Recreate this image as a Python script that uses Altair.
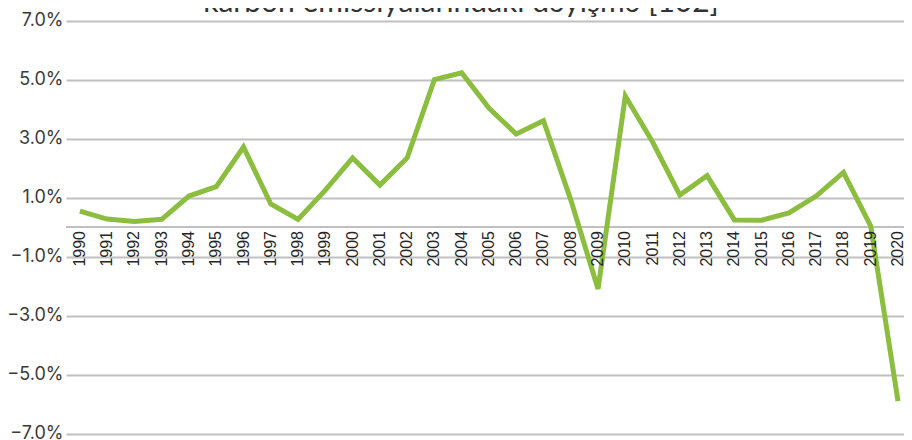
import altair as alt
import pandas as pd

years = list(range(1990, 2021))
values = [0.54, 0.27, 0.19, 0.26, 1.05, 1.37, 2.71, 0.78, 0.26, 1.25,
          2.34, 1.42, 2.34, 5.00, 5.23, 4.03, 3.15, 3.60, 0.92, -2.10,
          4.44, 2.88, 1.08, 1.74, 0.24, 0.23, 0.48, 1.05, 1.85, 0.03, -5.90]
y_ticks = [-7, -5, -3, -1, 1, 3, 5, 7]
title_text = "karbon emissiyalarındakı dəyişmə [102]"

df = pd.DataFrame({"year": years, "value": values, "zero": [0] * len(years)})

xs = alt.Scale(domain=[1989.49, 2020.22], nice=False, zero=False)
ys = alt.Scale(domain=[-7.22, 7.424], nice=False, zero=False)

base = alt.Chart(df)

line = base.mark_line(color="#8bbd3e", strokeWidth=5, strokeJoin="miter", clip=False).encode(
    x=alt.X("year:Q", scale=xs, axis=None),
    y=alt.Y("value:Q", scale=ys, axis=alt.Axis(
        values=y_ticks, title=None, grid=True, gridColor="#c0c0c0", gridWidth=1.8,
        domain=False, ticks=False, tickSize=0, labelPadding=3,
        labelExpr="format(datum.value, '.1f') + '%'",
        labelFont="Inter", labelFontSize=18, labelColor="#3a3a3a")),
)

zero_rule = base.mark_rule(color="#c0c0c0", strokeWidth=1.8).encode(
    y=alt.Y("zero:Q", scale=ys)
).transform_filter("datum.year == 1990")

year_labels = base.mark_text(angle=270, align="right", baseline="middle", dx=-4,
                             font="Liberation Sans", fontSize=16, color="#262626").encode(
    x=alt.X("year:Q", scale=xs),
    y=alt.Y("zero:Q", scale=ys),
    text=alt.Text("year:Q", format="d"),
)

title = alt.Chart(pd.DataFrame({"t": [title_text]})).mark_text(
    align="center", baseline="alphabetic", font="Lato", fontSize=30, color="#333333"
).encode(x=alt.value(395), y=alt.value(4), text="t:N")

chart = alt.layer(zero_rule, line, year_labels, title).properties(
    width=838, height=432,
    autosize=alt.AutoSizeParams(type="none"),
    padding={"left": 58, "top": 0, "right": 0, "bottom": 0},
).configure_view(stroke=None)

chart.save("out.html", embed_options={"renderer": "svg", "actions": False})
